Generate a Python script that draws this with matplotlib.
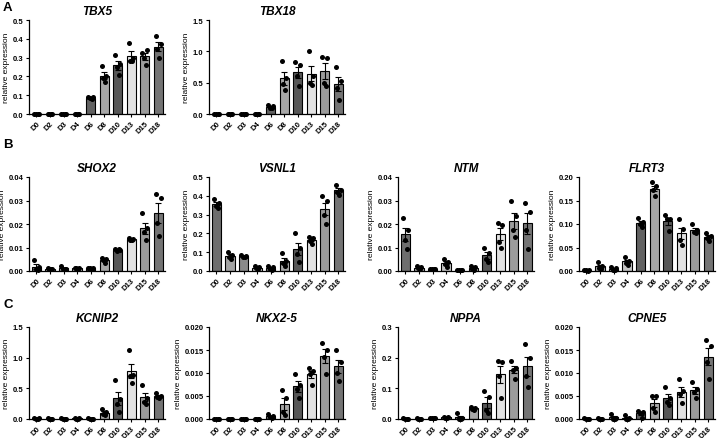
import numpy as np
import matplotlib
matplotlib.use("Agg")
import matplotlib.pyplot as plt
from matplotlib.ticker import MultipleLocator, FormatStrFormatter

plt.rcParams['font.family'] = ['Liberation Sans', 'DejaVu Sans']

days = ["D0", "D2", "D3", "D4", "D6", "D8", "D10", "D13", "D15", "D18"]
bar_colors = ["#6e6e6e", "#a3a3a3", "#8a8a8a", "#c4c4c4", "#626262",
              "#a8a8a8", "#575757", "#e2e2e2", "#9c9c9c", "#747474"]

# replicate values per day (4 per day)
tbx5 = [[0.002, 0.002, 0.001, 0.002], [0.002, 0.002, 0.001, 0.002], [0.002, 0.001, 0.002, 0.002],
        [0.002, 0.002, 0.001, 0.002], [0.09, 0.088, 0.085, 0.08], [0.255, 0.2, 0.19, 0.17],
        [0.315, 0.265, 0.25, 0.205], [0.38, 0.3, 0.28, 0.28], [0.325, 0.34, 0.3, 0.26],
        [0.415, 0.37, 0.345, 0.30]]
tbx18 = [[0.005, 0.004, 0.006, 0.005], [0.005, 0.004, 0.006, 0.005], [0.005, 0.004, 0.006, 0.005],
         [0.005, 0.004, 0.006, 0.005], [0.14, 0.12, 0.1, 0.09], [0.84, 0.57, 0.48, 0.38],
         [0.83, 0.78, 0.6, 0.45], [1.0, 0.6, 0.5, 0.47], [0.91, 0.9, 0.5, 0.44],
         [0.75, 0.52, 0.41, 0.22]]
shox2 = [[0.0045, 0.0015, 0.001, 0.0005], [0.0011, 0.001, 0.0009, 0.001], [0.002, 0.001, 0.001, 0.0008],
         [0.0014, 0.0012, 0.0011, 0.001], [0.0014, 0.0012, 0.0011, 0.001], [0.0055, 0.005, 0.0045, 0.0035],
         [0.0095, 0.009, 0.0085, 0.0094], [0.014, 0.0135, 0.013, 0.0133], [0.0245, 0.0185, 0.0165, 0.013],
         [0.0328, 0.031, 0.0205, 0.0148]]
vsnl1 = [[0.383, 0.36, 0.345, 0.335], [0.1, 0.085, 0.075, 0.065], [0.083, 0.08, 0.077, 0.072],
         [0.025, 0.02, 0.015, 0.01], [0.025, 0.02, 0.01, 0.005], [0.095, 0.055, 0.04, 0.025],
         [0.2, 0.12, 0.09, 0.05], [0.18, 0.175, 0.16, 0.145], [0.4, 0.37, 0.3, 0.25],
         [0.46, 0.43, 0.42, 0.405]]
ntm = [[0.0225, 0.0175, 0.013, 0.0095], [0.002, 0.0015, 0.0012, 0.001], [0.001, 0.0008, 0.0007, 0.0008],
       [0.005, 0.004, 0.003, 0.0015], [0.0005, 0.0004, 0.0004, 0.0003], [0.002, 0.0015, 0.001, 0.0005],
       [0.01, 0.0075, 0.005, 0.004], [0.0205, 0.0195, 0.0125, 0.01], [0.03, 0.0235, 0.0175, 0.0145],
       [0.029, 0.025, 0.0175, 0.0095]]
flrt3 = [[0.003, 0.002, 0.002, 0.001], [0.02, 0.01, 0.007, 0.004], [0.009, 0.006, 0.003, 0.002],
         [0.03, 0.022, 0.017, 0.012], [0.112, 0.105, 0.1, 0.093], [0.19, 0.18, 0.172, 0.16],
         [0.12, 0.11, 0.11, 0.085], [0.11, 0.09, 0.065, 0.055], [0.1, 0.088, 0.083, 0.08],
         [0.08, 0.075, 0.07, 0.063]]
kcnip2 = [[0.015, 0.01, 0.008, 0.007], [0.01, 0.008, 0.007, 0.006], [0.01, 0.008, 0.007, 0.006],
          [0.012, 0.01, 0.008, 0.006], [0.01, 0.008, 0.007, 0.006], [0.16, 0.12, 0.08, 0.06],
          [0.64, 0.33, 0.25, 0.12], [1.13, 0.72, 0.7, 0.58], [0.55, 0.35, 0.27, 0.25],
          [0.42, 0.38, 0.36, 0.34]]
nkx25 = [[0.0001, 0.0, 0.0001, 0.0], [0.0001, 0.0, 0.0001, 0.0], [0.0001, 0.0, 0.0001, 0.0],
         [0.0001, 0.0, 0.0001, 0.0], [0.001, 0.0007, 0.0004, 0.0003], [0.0063, 0.0045, 0.0015, 0.0008],
         [0.0098, 0.0075, 0.0065, 0.0045], [0.011, 0.0105, 0.0098, 0.0075], [0.0165, 0.015, 0.0135, 0.0098],
         [0.015, 0.0125, 0.01, 0.0082]]
nppa = [[0.002, 0.001, 0.001, 0.001], [0.002, 0.001, 0.001, 0.001], [0.004, 0.003, 0.002, 0.002],
        [0.008, 0.006, 0.004, 0.003], [0.02, 0.003, 0.001, 0.001], [0.04, 0.037, 0.034, 0.03],
        [0.092, 0.072, 0.03, 0.02], [0.19, 0.185, 0.14, 0.07], [0.19, 0.165, 0.16, 0.13],
        [0.245, 0.2, 0.14, 0.105]]
cpne5 = [[0.0002, 0.0001, 0.0001, 0.0], [0.0002, 0.0001, 0.0001, 0.0], [0.001, 0.0002, 0.0001, 0.0001],
         [0.0008, 0.0003, 0.0001, 0.0001], [0.0018, 0.0016, 0.0012, 0.0002], [0.005, 0.005, 0.0025, 0.0015],
         [0.007, 0.0045, 0.0038, 0.003], [0.0087, 0.006, 0.0055, 0.0035], [0.008, 0.0065, 0.0058, 0.0045],
         [0.0172, 0.0158, 0.0125, 0.0088]]

# gene, data, ymax, tick step, decimals
panels = [
    ("TBX5", tbx5, 0.5, 0.1, 1), ("TBX18", tbx18, 1.5, 0.5, 1),
    ("SHOX2", shox2, 0.04, 0.01, 2), ("VSNL1", vsnl1, 0.5, 0.1, 1),
    ("NTM", ntm, 0.04, 0.01, 2), ("FLRT3", flrt3, 0.2, 0.05, 2),
    ("KCNIP2", kcnip2, 1.5, 0.5, 1), ("NKX2-5", nkx25, 0.02, 0.005, 3),
    ("NPPA", nppa, 0.3, 0.1, 1), ("CPNE5", cpne5, 0.02, 0.005, 3),
]

W, H = 718, 439
fig = plt.figure(figsize=(W / 100, H / 100), dpi=100)

lefts = [29, 209, 398, 579]
rows = [(21, 115), (178, 272), (328, 420)]
slots = [(0, 0), (0, 1), (1, 0), (1, 1), (1, 2), (1, 3), (2, 0), (2, 1), (2, 2), (2, 3)]
jitter = np.array([-0.17, 0.17, -0.06, 0.08])

for (gene, data, ymax, step, dec), (r, c) in zip(panels, slots):
    top, bot = rows[r]
    ax = fig.add_axes([lefts[c] / W, 1 - bot / H, 136 / W, (bot - top) / H])
    vals = np.array(data)
    means = vals.mean(axis=1)
    sems = vals.std(axis=1, ddof=1) / np.sqrt(vals.shape[1])
    x = np.arange(len(days))
    ax.bar(x, means, width=0.68, color=bar_colors, edgecolor="black", linewidth=0.8, zorder=2)
    ax.errorbar(x, means, yerr=sems, fmt="none", ecolor="black", elinewidth=0.8,
                capsize=2.2, capthick=0.8, zorder=3)
    for i in range(len(days)):
        ax.scatter(x[i] + jitter, vals[i], s=13, color="black", zorder=4, clip_on=False,
                   linewidths=0)
    ax.set_xlim(-0.55, 9.5)
    ax.set_ylim(0, ymax)
    ax.yaxis.set_major_locator(MultipleLocator(step))
    ax.yaxis.set_major_formatter(FormatStrFormatter("%%.%df" % dec))
    ax.set_xticks(x)
    ax.set_xticklabels(days, rotation=45, ha="right", rotation_mode="anchor")
    for s in ["top", "right"]:
        ax.spines[s].set_visible(False)
    for s in ["left", "bottom"]:
        ax.spines[s].set_linewidth(0.9)
    ax.tick_params(length=2.5, width=0.8, labelsize=5.5, pad=1.5)
    for lbl in ax.get_xticklabels() + ax.get_yticklabels():
        lbl.set_fontweight("bold")
    ax.set_ylabel("relative expression", fontsize=6, labelpad=2)
    ax.set_title(gene, fontsize=8.5, fontweight="bold", fontstyle="italic", pad=4)

fig.text(3 / W, 1 - 8 / H, "A", fontsize=9.5, fontweight="bold", va="center")
fig.text(3 / W, 1 - 145 / H, "B", fontsize=9.5, fontweight="bold", va="center")
fig.text(3 / W, 1 - 305 / H, "C", fontsize=9.5, fontweight="bold", va="center")

fig.savefig("out.png", dpi=100)
